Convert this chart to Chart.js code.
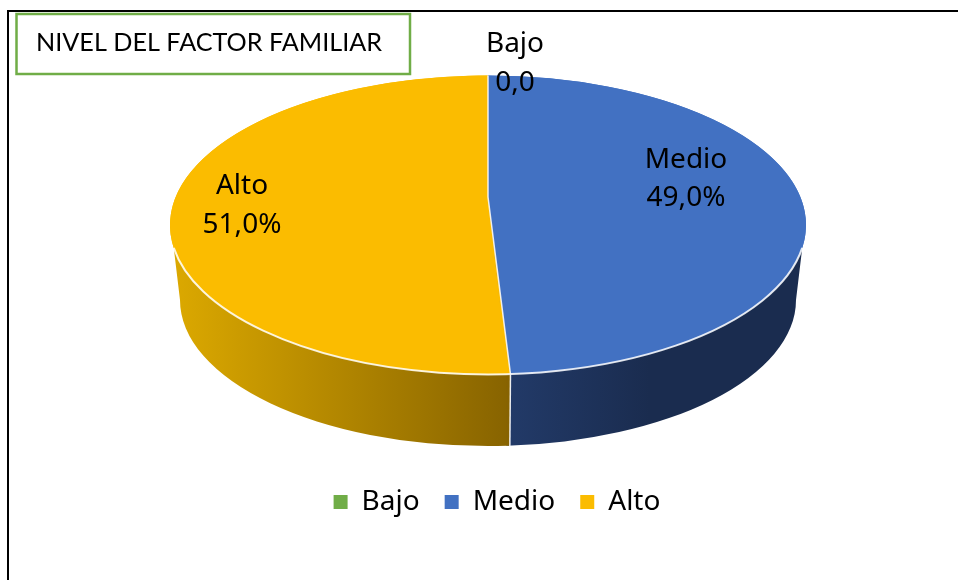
<!DOCTYPE html>
<html>
<head>
<meta charset="utf-8">
<style>html,body{margin:0;padding:0;background:#fff}#w{width:958px;height:580px}canvas{display:block}</style>
<script src="https://cdn.jsdelivr.net/npm/chart.js@4"></script>
</head>
<body>
<div id="w"><canvas id="c" width="958" height="580"></canvas></div>
<script>
const categories = ['Bajo', 'Medio', 'Alto'];
const values = [0, 49.0, 51.0];
const valueLabels = ['0,0', '49,0%', '51,0%'];
const sliceColors = ['#70AD47', '#4271C2', '#FBBC00'];
const chartTitle = 'NIVEL DEL FACTOR FAMILIAR';

const TOP = {cx: 488, cy: 225, rx: 318, ry: 149.5, apexY: 197};
const BOT = {cx: 488, cy: 300, rx: 308, ry: 146};
const EDGE = 0.154;
const SEAM_SHIFT = 2.5;
const labelPos = [[515, 44, 83], [686, 160, 198], [242, 186, 225]];
const sideStops = [null, [510, '#223A68', 650, '#1A2C4F'], [172, '#DCA900', 510, '#876300']];
const pt = (e, a) => [e.cx + e.rx * Math.cos(a), e.cy + e.ry * Math.sin(a)];

const pie3d = {
  id: 'pie3d',
  beforeDatasetsDraw(chart) {
    const ctx = chart.ctx;
    const arcs = chart.getDatasetMeta(0).data;
    ctx.save();
    ctx.strokeStyle = '#000';
    ctx.lineWidth = 2;
    ctx.beginPath();
    ctx.moveTo(8, 580); ctx.lineTo(8, 11); ctx.lineTo(958, 11);
    ctx.stroke();
    ctx.strokeStyle = '#70AD47';
    ctx.lineWidth = 2.5;
    ctx.strokeRect(16.5, 14, 393.5, 60);
    arcs.forEach((arc, i) => {
      const s = sideStops[i];
      if (!s) return;
      const a0 = Math.max(arc.startAngle, EDGE);
      const a1 = Math.min(arc.endAngle, Math.PI - EDGE);
      if (a1 <= a0) return;
      const b0 = a0 === EDGE ? 0 : a0;
      const b1 = a1 === Math.PI - EDGE ? Math.PI : a1;
      const g = ctx.createLinearGradient(s[0], 0, s[2], 0);
      g.addColorStop(0, s[1]); g.addColorStop(1, s[3]);
      ctx.fillStyle = g;
      ctx.beginPath();
      ctx.ellipse(TOP.cx, TOP.cy, TOP.rx, TOP.ry, 0, a0, a1, false);
      const p = pt(BOT, b1);
      ctx.lineTo(p[0], p[1]);
      ctx.ellipse(BOT.cx, BOT.cy, BOT.rx, BOT.ry, 0, b1, b0, true);
      ctx.closePath();
      ctx.fill();
    });
    const seam = arcs[1].endAngle, t = pt(TOP, seam), b = pt(BOT, seam);
    ctx.fillStyle = sideStops[2][3];
    ctx.beginPath();
    ctx.moveTo(t[0] - 1, t[1]); ctx.lineTo(t[0] + SEAM_SHIFT, t[1]);
    ctx.lineTo(b[0] + SEAM_SHIFT, b[1]); ctx.lineTo(b[0] - 1, b[1]);
    ctx.closePath(); ctx.fill();
    ctx.strokeStyle = 'rgba(255,255,255,.9)';
    ctx.lineWidth = 1.5;
    ctx.beginPath();
    ctx.moveTo(t[0] + SEAM_SHIFT, t[1]); ctx.lineTo(b[0] + SEAM_SHIFT, b[1] + 1);
    ctx.stroke();
    ctx.restore();
  },
  beforeDatasetDraw(chart) {
    const ctx = chart.ctx, arc = chart.getDatasetMeta(0).data[1];
    const R = arc.outerRadius;
    ctx.save();
    ctx.translate(TOP.cx, TOP.cy);
    ctx.scale(TOP.rx / R, TOP.ry / R);
    ctx.translate(-arc.x, -arc.y);
  },
  afterDatasetDraw(chart) {
    const ctx = chart.ctx, arcs = chart.getDatasetMeta(0).data;
    ctx.restore();
    ctx.save();
    arcs.forEach((arc, i) => {
      if (arc.endAngle - arc.startAngle <= 0) return;
      ctx.fillStyle = sliceColors[i];
      ctx.beginPath();
      ctx.moveTo(TOP.cx, TOP.apexY);
      ctx.ellipse(TOP.cx, TOP.cy, TOP.rx, TOP.ry, 0, arc.startAngle, arc.endAngle, false);
      ctx.closePath();
      ctx.fill();
    });
    const m = arcs[1];
    const end = pt(TOP, m.endAngle), start = pt(TOP, m.startAngle);
    ctx.fillStyle = sliceColors[2];
    ctx.beginPath();
    ctx.moveTo(TOP.cx, TOP.apexY); ctx.lineTo(end[0] + SEAM_SHIFT, end[1]); ctx.lineTo(end[0] - 1, end[1]);
    ctx.closePath(); ctx.fill();
    ctx.strokeStyle = 'rgba(255,255,255,.85)';
    ctx.lineWidth = 1.5;
    ctx.beginPath();
    ctx.moveTo(start[0], start[1]); ctx.lineTo(TOP.cx, TOP.apexY); ctx.lineTo(end[0] + SEAM_SHIFT, end[1]);
    ctx.stroke();
    ctx.lineWidth = 2;
    ctx.beginPath();
    ctx.ellipse(TOP.cx, TOP.cy, TOP.rx, TOP.ry, 0, EDGE, Math.PI - EDGE, false);
    ctx.stroke();
    ctx.restore();
  },
  afterDatasetsDraw(chart) {
    const ctx = chart.ctx;
    ctx.save();
    ctx.fillStyle = '#000';
    ctx.font = '28px "Noto Sans"';
    ctx.textAlign = 'center';
    ctx.textBaseline = 'middle';
    categories.forEach((name, i) => {
      const p = labelPos[i];
      ctx.fillText(name, p[0], p[1]);
      ctx.fillText(valueLabels[i], p[0], p[2]);
    });
    ctx.restore();
  }
};

new Chart(document.getElementById('c'), {
  type: 'pie',
  data: {
    labels: categories,
    datasets: [{data: values, backgroundColor: sliceColors, borderWidth: 0}]
  },
  options: {
    responsive: false,
    animation: false,
    layout: {padding: {left: 36, top: 24, bottom: 54, right: 0}},
    plugins: {
      tooltip: {enabled: false},
      title: {
        display: true, text: chartTitle, align: 'start', color: '#000',
        font: {family: 'Lato', size: 25.2, weight: 'normal'},
        padding: {top: 4, bottom: 10}
      },
      legend: {
        position: 'bottom',
        labels: {
          boxWidth: 14, boxHeight: 14, padding: 25, color: '#000',
          font: {family: '"Noto Sans"', size: 28}
        }
      }
    }
  },
  plugins: [pie3d]
});
</script>
</body>
</html>
